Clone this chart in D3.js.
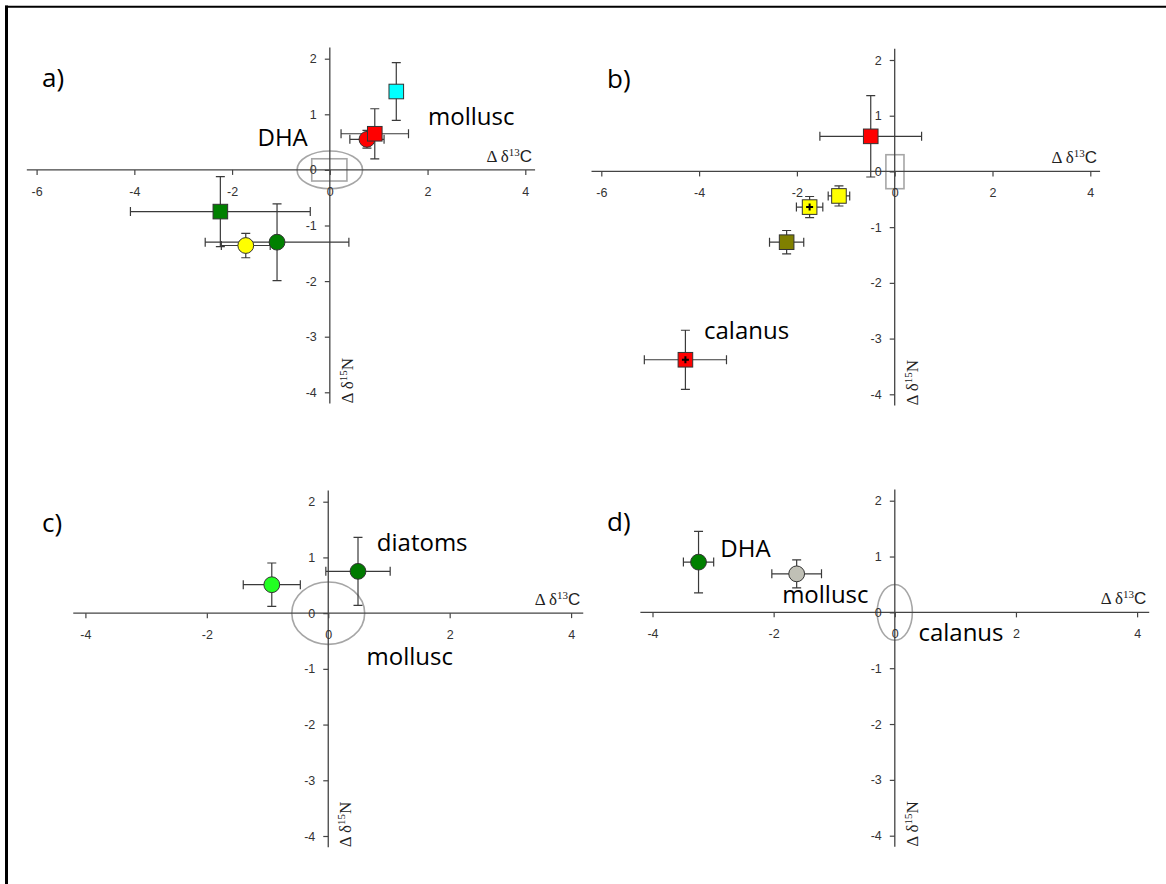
<!DOCTYPE html>
<html>
<head>
<meta charset="utf-8">
<script src="https://cdn.jsdelivr.net/npm/d3@7"></script>
<style>
  body { margin: 0; background: #fff; }
  svg { display: block; }
</style>
</head>
<body>
<svg id="chart" width="1166" height="884"></svg>
<script>
// ---- data (Δδ13C, Δδ15N, ± error) ----
const xTicksWide = [-6, -4, -2, 0, 2, 4];
const xTicksNarrow = [-4, -2, 0, 2, 4];
const yTicks = [-4, -3, -2, -1, 0, 1, 2];

const pointsA = [
  { kind: 'redCircle',   x: 0.76,  y: 0.55,  xe: 0.35, ye: 0.16 },
  { kind: 'cyanSquare',  x: 1.36,  y: 1.41,  xe: 0,    ye: 0.52 },
  { kind: 'redSquare',   x: 0.92,  y: 0.65,  xe: 0.69, ye: 0.45 },
  { kind: 'greenSquare', x: -2.24, y: -0.75, xe: 1.84, ye: 0.63 },
  { kind: 'yellowCircle',x: -1.72, y: -1.36, xe: 0.50, ye: 0.22 },
  { kind: 'greenCircle', x: -1.08, y: -1.30, xe: 1.47, ye: 0.69 }
];
const pointsB = [
  { kind: 'redSquare',       x: -0.49, y: 0.63,  xe: 1.04, ye: 0.73 },
  { kind: 'yellowSquarePlus',x: -1.74, y: -0.64, xe: 0.27, ye: 0.19 },
  { kind: 'yellowSquare',    x: -1.14, y: -0.44, xe: 0.22, ye: 0.18 },
  { kind: 'oliveSquare',     x: -2.21, y: -1.27, xe: 0.35, ye: 0.21 },
  { kind: 'redSquarePlus',   x: -4.28, y: -3.38, xe: 0.84, ye: 0.53 }
];
const pointsC = [
  { kind: 'limeCircle',      x: -0.93, y: 0.51, xe: 0.47, ye: 0.39 },
  { kind: 'darkGreenCircle', x: 0.49,  y: 0.75, xe: 0.53, ye: 0.61 }
];
const pointsD = [
  { kind: 'greenCircle', x: -3.24, y: 0.90, xe: 0.25, ye: 0.55 },
  { kind: 'grayCircle',  x: -1.62, y: 0.69, xe: 0.41, ye: 0.25 }
];

// reference ranges around the origin (half widths)
const ellipsesA = [{ cx: 0, cy: 0, rx: 0.67, ry: 0.34 }];
const ellipsesC = [{ cx: 0, cy: 0, rx: 0.60, ry: 0.56 }];
const ellipsesD = [{ cx: 0, cy: 0, rx: 0.29, ry: 0.50 }];
const boxesA = [{ x0: -0.37, x1: 0.35, y0: -0.20, y1: 0.20 }];
const boxesB = [{ x0: -0.18, x1: 0.19, y0: -0.31, y1: 0.30 }];

const notesA = [{ text: 'DHA', x: -1.48, y: 0.43 }, { text: 'mollusc', x: 2.01, y: 0.81 }];
const notesB = [{ text: 'calanus', x: -3.90, y: -3.0 }];
const notesC = [{ text: 'diatoms', x: 0.80, y: 1.11 }, { text: 'mollusc', x: 0.63, y: -0.93 }];
const notesD = [{ text: 'DHA', x: -2.88, y: 1.0 }, { text: 'mollusc', x: -1.86, y: 0.16 }, { text: 'calanus', x: 0.39, y: -0.52 }];

// marker look for each kind
const kindStyle = {
  redCircle:        { shape: 'circle', fill: '#ff0000' },
  cyanSquare:       { shape: 'square', fill: '#00ffff' },
  redSquare:        { shape: 'square', fill: '#ff0000' },
  redSquarePlus:    { shape: 'square', fill: '#ff0000', plus: true },
  greenSquare:      { shape: 'square', fill: '#008000' },
  yellowCircle:     { shape: 'circle', fill: '#ffff00' },
  greenCircle:      { shape: 'circle', fill: '#008000' },
  yellowSquare:     { shape: 'square', fill: '#ffff00' },
  yellowSquarePlus: { shape: 'square', fill: '#ffff00', plus: true },
  oliveSquare:      { shape: 'square', fill: '#808000' },
  limeCircle:       { shape: 'circle', fill: '#22ff22' },
  darkGreenCircle:  { shape: 'circle', fill: '#007a00' },
  grayCircle:       { shape: 'circle', fill: '#c0c0b6' }
};

// panel layout
const panels = [
  { tag: 'a)', tagPos: [42, 87],  pts: pointsA, ell: ellipsesA, box: boxesA, notes: notesA,
    xt: xTicksWide, xr: [36.6, 525.3], yr: [392.3, 58.7] },
  { tag: 'b)', tagPos: [607, 88], pts: pointsB, ell: [], box: boxesB, notes: notesB,
    xt: xTicksWide, xr: [601.3, 1090.3], yr: [394.3, 60] },
  { tag: 'c)', tagPos: [42, 532], pts: pointsC, ell: ellipsesC, box: [], notes: notesC,
    xt: xTicksNarrow, xr: [85.4, 571.1], yr: [836, 501.7] },
  { tag: 'd)', tagPos: [607, 531], pts: pointsD, ell: ellipsesD, box: [], notes: notesD,
    xt: xTicksNarrow, xr: [652.5, 1137.1], yr: [835.7, 500.7] }
];

const svg = d3.select('#chart');

// frame
svg.append('line').attr('x1', 6.5).attr('x2', 6.5).attr('y1', 5.5).attr('y2', 884)
  .attr('stroke', '#000').attr('stroke-width', 3);
svg.append('line').attr('x1', 5).attr('x2', 1166).attr('y1', 6.8).attr('y2', 6.8)
  .attr('stroke', '#000').attr('stroke-width', 2);

const axisColor = '#444';
const tickFont = '"Liberation Sans", Arial, sans-serif';
const serif = '"Liberation Serif", "Times New Roman", serif';
const labelFont = '"Open Sans", "Noto Sans", sans-serif';
const cap = 4.5;

panels.forEach(p => {
  const xMin = d3.min(p.xt), xMax = d3.max(p.xt);
  const x = d3.scaleLinear().domain([xMin, xMax]).range(p.xr);
  const y = d3.scaleLinear().domain([-4, 2]).range(p.yr);
  const g = svg.append('g');

  // reference ranges
  g.selectAll('.ref-ell').data(p.ell).enter().append('ellipse')
    .attr('cx', d => x(d.cx)).attr('cy', d => y(d.cy))
    .attr('rx', d => x(d.rx) - x(0)).attr('ry', d => y(0) - y(d.ry))
    .attr('fill', 'none').attr('stroke', '#a6a6a6').attr('stroke-width', 1.6);
  g.selectAll('.ref-box').data(p.box).enter().append('rect')
    .attr('x', d => x(d.x0)).attr('y', d => y(d.y1))
    .attr('width', d => x(d.x1) - x(d.x0)).attr('height', d => y(d.y0) - y(d.y1))
    .attr('fill', 'none').attr('stroke', '#a6a6a6').attr('stroke-width', 1.6);

  // axes crossing at the origin
  g.append('line')
    .attr('x1', x(xMin - 0.2)).attr('x2', x(xMax + 0.2)).attr('y1', y(0)).attr('y2', y(0))
    .attr('stroke', axisColor).attr('stroke-width', 1.3);
  g.append('line')
    .attr('x1', x(0)).attr('x2', x(0)).attr('y1', y(-4.2)).attr('y2', y(2.2))
    .attr('stroke', axisColor).attr('stroke-width', 1.3);

  const xa = g.append('g').attr('transform', `translate(0,${y(0)})`)
    .call(d3.axisBottom(x).tickValues(p.xt).tickSize(5).tickPadding(12).tickFormat(d => String(d)));
  const ya = g.append('g').attr('transform', `translate(${x(0)},0)`)
    .call(d3.axisLeft(y).tickValues(yTicks).tickSize(5).tickPadding(8).tickFormat(d => String(d)));
  [xa, ya].forEach(a => {
    a.select('.domain').remove();
    a.selectAll('line').attr('stroke', axisColor).attr('stroke-width', 1.2);
    a.selectAll('text').attr('fill', '#333').style('font-family', tickFont).style('font-size', '12.5px');
  });

  // axis titles
  const xt = g.append('text')
    .attr('x', x(xMax + 0.2) - 3).attr('y', y(0) - 8)
    .attr('text-anchor', 'end').attr('fill', '#222')
    .style('font-family', serif).style('font-size', '17px');
  xt.append('tspan').text('Δ δ');
  xt.append('tspan').attr('dy', -6).style('font-size', '11px').text('13');
  xt.append('tspan').attr('dy', 6).style('font-family', tickFont).text('C');

  const yt = g.append('text')
    .attr('transform', `translate(${x(0) + 23},${y(-4.2)}) rotate(-90)`)
    .attr('text-anchor', 'start').attr('fill', '#222')
    .style('font-family', serif).style('font-size', '17px');
  yt.append('tspan').text('Δ δ');
  yt.append('tspan').attr('dy', -6).style('font-size', '11px').text('15');
  yt.append('tspan').attr('dy', 6).text('N');

  // error bars
  const eb = g.append('g').attr('stroke', '#3a3a3a').attr('stroke-width', 1.2).attr('fill', 'none');
  p.pts.forEach(d => {
    const cx = x(d.x), cy = y(d.y);
    if (d.xe > 0) {
      const l = x(d.x - d.xe), r = x(d.x + d.xe);
      eb.append('path').attr('d',
        `M${l},${cy}H${r}M${l},${cy - cap}V${cy + cap}M${r},${cy - cap}V${cy + cap}`);
    }
    if (d.ye > 0) {
      const t = y(d.y + d.ye), b = y(d.y - d.ye);
      eb.append('path').attr('d',
        `M${cx},${t}V${b}M${cx - cap},${t}H${cx + cap}M${cx - cap},${b}H${cx + cap}`);
    }
  });

  // markers
  const mk = g.selectAll('.mk').data(p.pts).enter().append('g')
    .attr('transform', d => `translate(${x(d.x)},${y(d.y)})`);
  mk.each(function (d) {
    const s = kindStyle[d.kind];
    const m = d3.select(this);
    if (s.shape === 'square') {
      m.append('rect').attr('x', -7.3).attr('y', -7.3).attr('width', 14.6).attr('height', 14.6)
        .attr('fill', s.fill).attr('stroke', '#333').attr('stroke-width', 1);
    } else {
      m.append('circle').attr('r', 7.9)
        .attr('fill', s.fill).attr('stroke', '#333').attr('stroke-width', 1);
    }
    if (s.plus) {
      m.append('path').attr('d', 'M-3.5,0H3.5M0,-3.5V3.5')
        .attr('stroke', '#000').attr('stroke-width', 2);
    }
  });

  // annotations
  g.selectAll('.note').data(p.notes).enter().append('text')
    .attr('x', d => x(d.x)).attr('y', d => y(d.y))
    .attr('fill', '#000').style('font-family', labelFont).style('font-size', '24px')
    .text(d => d.text);

  // panel tag
  g.append('text').attr('x', p.tagPos[0]).attr('y', p.tagPos[1])
    .attr('fill', '#000').style('font-family', labelFont).style('font-size', '26px')
    .text(p.tag);
});
</script>
</body>
</html>
